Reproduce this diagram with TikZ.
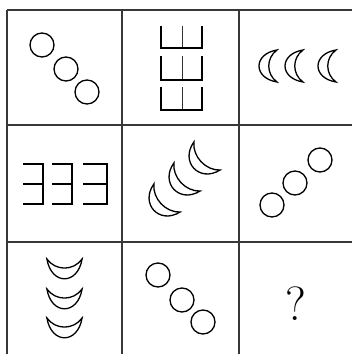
\documentclass[tikz,border=0pt]{standalone}
\begin{document}
\begin{tikzpicture}[x=1pt,y=-1pt,
  gridline/.style={line width=2pt,draw=black!78},
  outl/.style={line width=1.3pt,draw=black},
  thinbar/.style={line width=0.9pt,draw=black!80},
  thickbar/.style={line width=1.8pt,draw=black}]
\useasboundingbox (0,0) rectangle (352,354);
% grid
\draw[gridline] (7,10) -- (352,10);
\draw[gridline] (7,125) -- (352,125);
\draw[gridline] (7,242) -- (352,242);
\draw[gridline] (7,10) -- (7,354);
\draw[gridline] (122,10) -- (122,354);
\draw[gridline] (239,10) -- (239,354);
% crescent macro
\newcommand{\mycres}[5]{%
  \begin{scope}[shift={(#1,#2)},rotate=#3,xscale=#4,yscale=#5]
  \draw[outl,fill=white] (0,-16) .. controls (-24,-12) and (-24,12) .. (0,16)
     .. controls (-11,8) and (-11,-8) .. (0,-16) -- cycle;
  \end{scope}}
% cell 1,1 circles descending
\draw[outl] (42,45) circle[radius=12pt];
\draw[outl] (66,69) circle[radius=12pt];
\draw[outl] (87,92) circle[radius=12pt];
% cell 1,2 sha shapes
\foreach \t/\b in {26/48, 56/80, 87/110}{
  \draw[thinbar] (182,\t) -- (182,\b);
  \draw[thickbar] (161,\t) -- (161,\b) -- (202,\b) -- (202,\t);
}
% cell 1,3 crescents facing right
\mycres{277}{66}{0}{1}{1}
\mycres{303}{66}{0}{1}{1}
\mycres{336}{66}{0}{1}{1}
% cell 2,1 reversed E
\foreach \l/\r in {23/43, 52/72, 83/107}{
  \draw[thickbar] (\l,164) -- (\r,164) -- (\r,204) -- (\l,204);
  \draw[thickbar] (\l,184) -- (\r,184);
}
% cell 2,2 tilted crescents
\mycres{167}{198}{43}{1}{1.2}
\mycres{187}{177}{43}{1}{1.2}
\mycres{207}{156}{43}{1}{1.2}
% cell 2,3 circles ascending
\draw[outl] (272,205) circle[radius=12pt];
\draw[outl] (295,183) circle[radius=12pt];
\draw[outl] (320,160) circle[radius=12pt];
% cell 3,1 smiles
\mycres{64.5}{259}{90}{1.1}{1.1}
\mycres{64.5}{289}{90}{1.1}{1.1}
\mycres{64.5}{318}{90}{1.1}{1.1}
% cell 3,2 circles descending
\draw[outl] (158,275) circle[radius=12pt];
\draw[outl] (182,300) circle[radius=12pt];
\draw[outl] (203,322) circle[radius=12pt];
% cell 3,3 question mark
\node (q) at (296,304) {\fontsize{48}{48}\selectfont ?};
\end{tikzpicture}
\end{document}
